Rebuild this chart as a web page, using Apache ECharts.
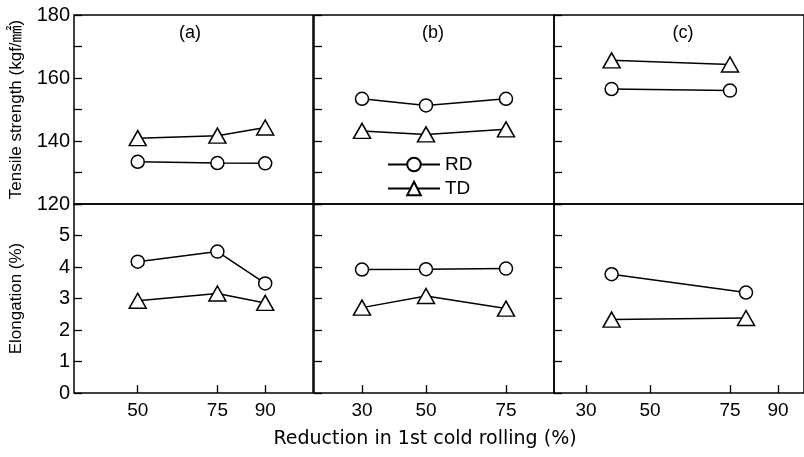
<!DOCTYPE html>
<html>
<head>
<meta charset="utf-8">
<script src="https://cdn.jsdelivr.net/npm/echarts@6/dist/echarts.min.js"></script>
<style>
  html, body { margin: 0; padding: 0; background: #fff; }
  #chart { width: 804px; height: 457px; }
</style>
</head>
<body>
<div id="chart"></div>
<script>
// panel names
var panelNames = ['(a)', '(b)', '(c)'];

// x values (reduction in 1st cold rolling, %)
var xA = [50, 75, 90];
var xB = [30, 50, 75];
var xC_top = [38, 75];
var xC_bot = [38, 80];

// tick labels on each bottom x axis
var xTicksA = [50, 75, 90];
var xTicksB = [30, 50, 75];
var xTicksC = [30, 50, 75, 90];

// tensile strength (kgf/mm2)
var tsRD_a = [133.4, 133.0, 132.9];
var tsTD_a = [140.9, 141.7, 144.3];
var tsRD_b = [153.4, 151.3, 153.4];
var tsTD_b = [143.2, 142.1, 143.7];
var tsRD_c = [156.5, 156.0];
var tsTD_c = [165.6, 164.3];

// elongation (%)
var elRD_a = [4.17, 4.49, 3.48];
var elTD_a = [2.93, 3.16, 2.86];
var elRD_b = [3.92, 3.93, 3.95];
var elTD_b = [2.71, 3.08, 2.68];
var elRD_c = [3.77, 3.19];
var elTD_c = [2.33, 2.38];

// y tick labels
var tsLabels = [120, 140, 160, 180];
var elLabels = [0, 1, 2, 3, 4, 5];

function pairs(xs, ys) {
    return xs.map(function (x, i) { return [x, ys[i]]; });
}

var chart = echarts.init(document.getElementById('chart'));
var FONT = 'Liberation Sans';

// 面板位置
var cols = [
    { left: 74, width: 239, min: 30, max: 105 },
    { left: 314, width: 240, min: 15, max: 90 },
    { left: 554, width: 250, min: 20, max: 98.125 }
];
var rows = [{ top: 15, height: 189 }, { top: 204, height: 189 }];
var bottomTicks = [xTicksA, xTicksB, xTicksC];

var grids = [], xAxes = [], yAxes = [];
rows.forEach(function (r, ri) {
    cols.forEach(function (c, ci) {
        grids.push({
            left: c.left, top: r.top, width: c.width, height: r.height,
            show: true, borderColor: '#000', borderWidth: 1.5,
            containLabel: false
        });
        var isBottom = ri === 1;
        var x = {
            type: 'value', gridIndex: grids.length - 1,
            min: c.min, max: c.max,
            axisLine: { show: false },
            splitLine: { show: false },
            axisTick: { show: false },
            axisLabel: { show: false }
        };
        if (isBottom) {
            x.axisTick = {
                show: true, inside: true, length: 8,
                customValues: bottomTicks[ci],
                lineStyle: { color: '#000', width: 1.3 }
            };
            x.axisLabel = {
                show: true, customValues: bottomTicks[ci],
                color: '#000', fontSize: 19, fontFamily: FONT, margin: 8
            };
            if (ci === 1) {
                x.name = 'Reduction in 1st cold rolling (%)';
                x.nameLocation = 'middle';
                x.nameGap = 37;
                x.nameTextStyle = { color: '#000', fontSize: 19, fontFamily: 'DejaVu Sans', padding: [0, 18, 0, 0] };
            }
        }
        xAxes.push(x);
        var y = {
            type: 'value', gridIndex: grids.length - 1,
            min: isBottom ? 0 : 120,
            max: isBottom ? 6 : 180,
            interval: isBottom ? 1 : 10,
            axisLine: { show: false },
            splitLine: { show: false },
            axisTick: { show: true, inside: true, length: 8, lineStyle: { color: '#000', width: 1.3 } },
            axisLabel: { show: false }
        };
        if (ci === 0) {
            y.axisLabel = {
                show: true, customValues: isBottom ? elLabels : tsLabels,
                color: '#000', fontSize: 20, fontFamily: FONT, margin: 4
            };
            y.name = isBottom ? 'Elongation (%)' : 'Tensile strength (kgf/\u339f)';
            y.nameLocation = 'middle';
            y.nameGap = 49;
            y.nameTextStyle = { color: '#000', fontSize: 17, fontFamily: FONT + ', "Noto Sans CJK JP"' };
        }
        yAxes.push(y);
    });
});

var lineStyle = { color: '#000', width: 1.5 };
var itemStyle = { color: '#fff', borderColor: '#000', borderWidth: 1.5 };

function rd(idx, data) {
    return {
        name: 'RD', type: 'line', xAxisIndex: idx, yAxisIndex: idx, data: data,
        symbol: 'circle', symbolSize: 13, lineStyle: lineStyle, itemStyle: itemStyle,
        z: 3
    };
}
function td(idx, data) {
    return {
        name: 'TD', type: 'line', xAxisIndex: idx, yAxisIndex: idx, data: data,
        symbol: 'triangle', symbolSize: [17, 15], lineStyle: lineStyle, itemStyle: itemStyle,
        z: 3
    };
}

var series = [
    rd(0, pairs(xA, tsRD_a)), td(0, pairs(xA, tsTD_a)),
    rd(1, pairs(xB, tsRD_b)), td(1, pairs(xB, tsTD_b)),
    rd(2, pairs(xC_top, tsRD_c)), td(2, pairs(xC_top, tsTD_c)),
    rd(3, pairs(xA, elRD_a)), td(3, pairs(xA, elTD_a)),
    rd(4, pairs(xB, elRD_b)), td(4, pairs(xB, elTD_b)),
    rd(5, pairs(xC_bot, elRD_c)), td(5, pairs(xC_bot, elTD_c))
];

var labelX = [190, 433, 683];
var option = {
    animation: false,
    backgroundColor: '#fff',
    grid: grids,
    xAxis: xAxes,
    yAxis: yAxes,
    legend: {
        data: ['RD', 'TD'],
        orient: 'vertical',
        left: 382, top: 150,
        itemWidth: 52, itemHeight: 17, itemGap: 5,
        textStyle: { color: '#000', fontSize: 19, fontFamily: FONT }
    },
    graphic: panelNames.map(function (t, i) {
        return {
            type: 'text', x: labelX[i], y: 33,
            style: { text: t, fill: '#000', font: '18px "Liberation Sans"', align: 'center', verticalAlign: 'middle' }
        };
    }),
    series: series
};
chart.setOption(option);
</script>
</body>
</html>
